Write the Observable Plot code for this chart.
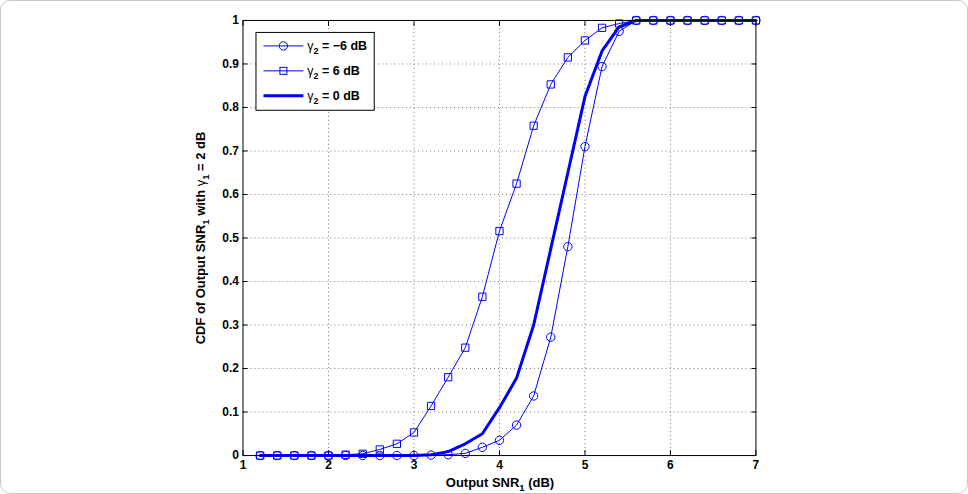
<!DOCTYPE html>
<html><head><meta charset="utf-8">
<script src="https://cdn.jsdelivr.net/npm/d3@7"></script>
<script src="https://cdn.jsdelivr.net/npm/@observablehq/plot@0.6"></script>
<style>
html,body{margin:0;padding:0;background:#fff;}
#wrap{position:relative;width:968px;height:494px;box-sizing:border-box;border:1px solid #c8c8c8;border-radius:10px;overflow:hidden;}
#chart svg{position:absolute;left:-1px;top:-1px;}
</style></head><body><div id="wrap"><div id="chart"></div></div>
<script>
// Output SNR1 (dB)
const xs = [1.2,1.4,1.6,1.8,2.0,2.2,2.4,2.6,2.8,3.0,3.2,3.4,3.6,3.8,4.0,4.2,4.4,4.6,4.8,5.0,5.2,5.4,5.6,5.8,6.0,6.2,6.4,6.6,6.8,7.0];
// CDF, gamma2 = -6 dB (circles)
const cdfMinus6 = [0,0,0,0,0,0,0,0,0,0,0.001,0.002,0.005,0.019,0.035,0.07,0.137,0.272,0.48,0.71,0.894,0.975,1,1,1,1,1,1,1,1];
// CDF, gamma2 = 6 dB (squares)
const cdfPlus6 = [0,0,0,0,0,0.002,0.004,0.014,0.027,0.053,0.114,0.18,0.248,0.365,0.516,0.625,0.758,0.853,0.915,0.954,0.983,0.993,1,1,1,1,1,1,1,1];
// CDF, gamma2 = 0 dB (thick line)
const cdf0 = [0,0,0,0,0,0,0,0,0,0,0.002,0.009,0.027,0.05,0.11,0.178,0.30,0.475,0.65,0.825,0.93,0.985,1,1,1,1,1,1,1,1];
const xTicks = [1,2,3,4,5,6,7];
const yTicks = [0,0.1,0.2,0.3,0.4,0.5,0.6,0.7,0.8,0.9,1];
const legendLabels = ["= \u22126 dB", "= 6 dB", "= 0 dB"];

const fontFam = "'Liberation Sans', Arial, Helvetica, sans-serif";
const blue = "#0000ff";
const rows = ys => xs.map((x, i) => ({x, y: ys[i]}));
const gridStyle = {stroke: "#777", strokeOpacity: 1, strokeWidth: 1, strokeDasharray: "1,3"};

const chart = Plot.plot({
  width: 968, height: 494,
  marginLeft: 243, marginRight: 211, marginTop: 20, marginBottom: 38,
  style: {fontFamily: fontFam, fontSize: "12px", fontWeight: "bold", color: "#000", background: "transparent", overflow: "visible"},
  x: {domain: [1, 7]},
  y: {domain: [0, 1]},
  marks: [
    Plot.gridX(xTicks.slice(1, -1), gridStyle),
    Plot.gridY(yTicks.slice(1, -1), gridStyle),
    Plot.axisX(xTicks, {anchor: "bottom", tickSize: -5, tickPadding: 10, label: null, tickFormat: d => String(d)}),
    Plot.axisX(xTicks, {anchor: "top", tickSize: -5, tickFormat: () => "", label: null}),
    Plot.axisY(yTicks, {anchor: "left", tickSize: -5, tickPadding: 9, label: null, tickFormat: d => String(d)}),
    Plot.axisY(yTicks, {anchor: "right", tickSize: -5, tickFormat: () => "", label: null}),
    Plot.line(rows(cdfMinus6), {x: "x", y: "y", stroke: blue, strokeWidth: 1}),
    Plot.dot(rows(cdfMinus6), {x: "x", y: "y", stroke: blue, symbol: "circle", r: 4.2, strokeWidth: 1}),
    Plot.line(rows(cdfPlus6), {x: "x", y: "y", stroke: blue, strokeWidth: 1}),
    Plot.dot(rows(cdfPlus6), {x: "x", y: "y", stroke: blue, symbol: "square", r: 4.1, strokeWidth: 1}),
    Plot.line(rows(cdf0), {x: "x", y: "y", stroke: blue, strokeWidth: 3}),
    Plot.frame({stroke: "#000", strokeWidth: 1})
  ]
});
document.getElementById("chart").appendChild(chart);

const svg = d3.select(chart);
// axis titles with subscripts
const xt = svg.append("text").attr("x", 501).attr("y", 488).attr("text-anchor", "middle")
  .attr("font-family", fontFam).attr("font-size", 13).attr("font-weight", "bold").attr("fill", "#000");
xt.append("tspan").text("Output SNR");
xt.append("tspan").attr("dy", 4).attr("font-size", 9.5).text("1");
xt.append("tspan").attr("dy", -4).text(" (dB)");

const yt = svg.append("text").attr("transform", "translate(205,238.5) rotate(-90)").attr("text-anchor", "middle")
  .attr("font-family", fontFam).attr("font-size", 13).attr("font-weight", "bold").attr("fill", "#000");
yt.append("tspan").text("CDF of Output SNR");
yt.append("tspan").attr("dy", 4).attr("font-size", 9.5).text("1");
yt.append("tspan").attr("dy", -4).text(" with ");
yt.append("tspan").attr("font-weight", "normal").text("\u03b3");
yt.append("tspan").attr("dy", 4).attr("font-size", 9.5).text("1");
yt.append("tspan").attr("dy", -4).text(" = 2 dB");

// legend
const lg = svg.append("g");
lg.append("rect").attr("x", 256.5).attr("y", 32.5).attr("width", 118.5).attr("height", 78)
  .attr("fill", "#fff").attr("stroke", "#000").attr("stroke-width", 1);
const ly = [46, 71, 96];
const sym = ["circle", "square", null];
const sw = [1, 1, 3];
legendLabels.forEach((lab, i) => {
  const y = ly[i];
  lg.append("line").attr("x1", 264).attr("x2", 304).attr("y1", y).attr("y2", y)
    .attr("stroke", blue).attr("stroke-width", sw[i]);
  if (sym[i] === "circle") lg.append("circle").attr("cx", 284).attr("cy", y).attr("r", 4.2).attr("fill", "none").attr("stroke", blue);
  if (sym[i] === "square") lg.append("rect").attr("x", 280.5).attr("y", y - 3.5).attr("width", 7).attr("height", 7).attr("fill", "none").attr("stroke", blue);
  const t = lg.append("text").attr("x", 308).attr("y", y + 4).attr("text-anchor", "start")
    .attr("font-family", fontFam).attr("font-size", 12.5).attr("font-weight", "bold").attr("fill", "#000");
  t.append("tspan").attr("font-weight", "normal").text("\u03b3");
  t.append("tspan").attr("dy", 4).attr("font-size", 9).text("2");
  t.append("tspan").attr("dy", -4).text(" " + lab);
});
</script></body></html>
